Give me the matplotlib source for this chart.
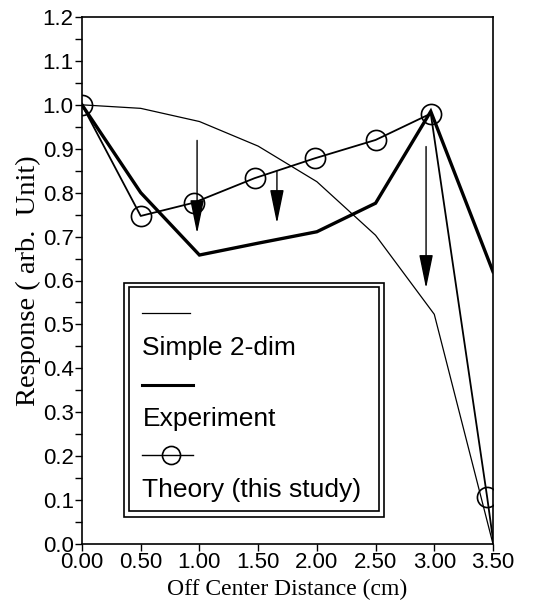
import numpy as np
import matplotlib
matplotlib.use('Agg')
import matplotlib.pyplot as plt
from matplotlib.patches import Rectangle
from matplotlib.lines import Line2D
from matplotlib.ticker import MultipleLocator


# values
simple_x = [0.0, 0.5, 1.0, 1.5, 2.0, 2.5, 3.0, 3.5]
simple_y = [1.0, 0.992, 0.962, 0.906, 0.825, 0.703, 0.523, 0.0]

exp_x = [0.0, 0.5, 1.0, 1.5, 2.0, 2.5, 2.97, 3.5]
exp_y = [1.0, 0.80, 0.658, 0.685, 0.711, 0.776, 0.985, 0.62]

theory_x = [0.0, 0.5, 0.95, 1.47, 1.98, 2.5, 2.97, 3.45, 3.5]
theory_y = [1.0, 0.747, 0.777, 0.833, 0.878, 0.92, 0.98, 0.107, 0.01]

arrow_x = [0.98, 1.66, 2.93]
arrow_top = [0.919, 0.848, 0.905]
arrow_tip = [0.707, 0.730, 0.582]

x_ticks = [0.0, 0.5, 1.0, 1.5, 2.0, 2.5, 3.0, 3.5]
y_ticks = [0.0, 0.1, 0.2, 0.3, 0.4, 0.5, 0.6, 0.7, 0.8, 0.9, 1.0, 1.1, 1.2]

labels = ['Simple 2-dim', 'Experiment', 'Theory (this study)']

sans = 'Liberation Sans'
serif = 'Liberation Serif'

fig = plt.figure(figsize=(5.45, 6.02), dpi=100)
ax = fig.add_axes([82/545, 1 - 544/602, 411/545, 527/602])

ax.plot(simple_x, simple_y, color='k', lw=0.9, zorder=3)
ax.plot(exp_x, exp_y, color='k', lw=2.4, solid_joinstyle='miter', zorder=3)
ax.plot(theory_x, theory_y, color='k', lw=1.3, marker='o', ms=14.5,
        mfc='none', mec='k', mew=1.2, markevery=list(range(8)), zorder=4)

for x, top, tip in zip(arrow_x, arrow_top, arrow_tip):
    ax.annotate('', xy=(x, tip), xytext=(x, top),
                arrowprops=dict(arrowstyle='-|>,head_length=21,head_width=4.3',
                                mutation_scale=1, lw=1.0, color='k',
                                shrinkA=0, shrinkB=0), zorder=5)

ax.set_xlim(0, 3.5)
ax.set_ylim(0, 1.2)
ax.set_xticks(x_ticks)
ax.set_yticks(y_ticks)
ax.yaxis.set_minor_locator(MultipleLocator(0.05))
ax.set_xticklabels(['%.2f' % v for v in x_ticks])
ax.set_yticklabels(['%.1f' % v for v in y_ticks])
ax.tick_params(which='both', direction='out', length=5, width=1.0,
               labelsize=16, pad=1)
for lab in ax.get_xticklabels() + ax.get_yticklabels():
    lab.set_family(sans)
for s in ax.spines.values():
    s.set_linewidth(1.2)

ax.set_xlabel('Off Center Distance (cm)', family=serif, fontsize=17, labelpad=4)
ax.set_ylabel('Response ( arb.  Unit)', family=serif, fontsize=20.5, labelpad=1)

# hand-made legend box with double frame
tr = ax.transAxes
ax.add_patch(Rectangle((0.103, 0.051), 0.633, 0.445, transform=tr,
                       fc='white', ec='k', lw=1.2, zorder=6))
ax.add_patch(Rectangle((0.115, 0.0625), 0.607, 0.4245, transform=tr,
                       fc='white', ec='k', lw=1.2, zorder=6))
ax.add_line(Line2D([0.146, 0.263], [0.4375, 0.4375], transform=tr,
                   color='k', lw=0.9, zorder=7))
ax.add_line(Line2D([0.146, 0.271], [0.302, 0.302], transform=tr,
                   color='k', lw=2.2, zorder=7))
ax.add_line(Line2D([0.146, 0.269], [0.168, 0.168], transform=tr,
                   color='k', lw=1.0, zorder=7))
ax.add_line(Line2D([0.217], [0.168], transform=tr, marker='o', ms=13,
                   mfc='none', mec='k', mew=1.2, zorder=7))
for lab, yb in zip(labels, [0.359, 0.224, 0.089]):
    ax.text(0.147, yb, lab, transform=tr, family=sans, fontsize=19,
            va='baseline', ha='left', zorder=8)

fig.savefig('out.png', dpi=100)
